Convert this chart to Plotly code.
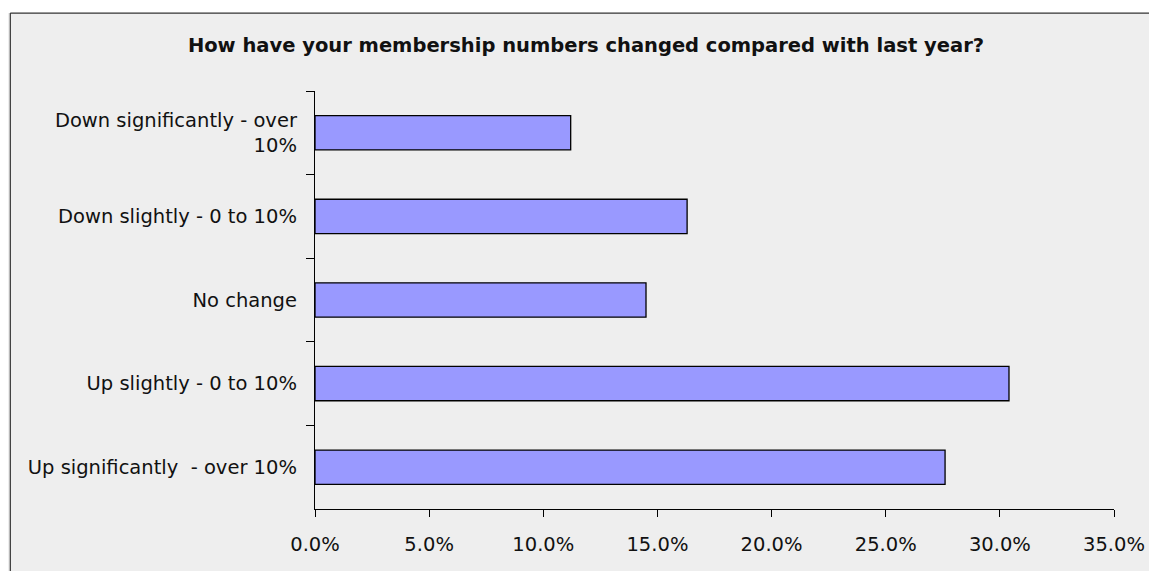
import plotly.graph_objects as go

categories = [
    "Down significantly - over<br>10%",
    "Down slightly - 0 to 10%",
    "No change",
    "Up slightly - 0 to 10%",
    "Up significantly &nbsp;- over 10%",
]
values = [11.2, 16.3, 14.5, 30.4, 27.6]
tick_vals = [0, 5, 10, 15, 20, 25, 30, 35]
tick_text = ["0.0%", "5.0%", "10.0%", "15.0%", "20.0%", "25.0%", "30.0%", "35.0%"]
title_text = "How have your membership numbers changed compared with last year?"

OFF = 8  # page body margin offset
W, H = 1157 - OFF, 571 - OFF
L, R = 315 - OFF, 1118.5 - OFF
T, B = 91 - OFF, 509.3 - OFF
pw, ph = R - L, B - T


def px_x(p):
    return (p - L) / pw


def px_y(p):
    return 1 - (p - T) / ph


font_family = "DejaVu Sans, Verdana, sans-serif"

fig = go.Figure(
    go.Bar(
        x=values,
        y=categories,
        orientation="h",
        marker=dict(color="#9999FF", line=dict(color="#000000", width=1.3)),
        hoverinfo="skip",
    )
)

# white strip above the chart-area box
fig.add_shape(
    type="rect", xref="paper", yref="paper", layer="below",
    x0=px_x(-10), x1=px_x(W + 30), y0=px_y(5), y1=px_y(-10),
    fillcolor="#FFFFFF", line=dict(width=0),
)
# left and top borders of the chart area
fig.add_shape(
    type="line", xref="paper", yref="paper", layer="below",
    x0=px_x(0.6), x1=px_x(0.6), y0=px_y(H + 30), y1=px_y(5),
    line=dict(color="#333333", width=1.2),
)
fig.add_shape(
    type="line", xref="paper", yref="paper", layer="below",
    x0=px_x(0.6), x1=px_x(W + 30), y0=px_y(5), y1=px_y(5),
    line=dict(color="#333333", width=1.2),
)

fig.update_layout(
    width=W, height=H,
    margin=dict(l=L, r=W - R, t=T, b=H - B, pad=0),
    paper_bgcolor="#EEEEEE",
    plot_bgcolor="rgba(0,0,0,0)",
    bargap=0.59,
    showlegend=False,
    font=dict(family=font_family, size=19.5, color="#111111"),
    title=dict(
        text="<b>" + title_text + "</b>",
        xref="container", yref="container",
        x=(586 - OFF) / W, y=1 - (45 - OFF) / H, xanchor="center", yanchor="middle",
        font=dict(family=font_family, size=19.5, color="#111111"),
    ),
    xaxis=dict(
        range=[0, 35], tickvals=tick_vals, ticktext=tick_text,
        showgrid=False, zeroline=False,
        showline=True, linecolor="#000000", linewidth=1.3,
        ticks="outside", ticklen=7, tickcolor="#000000", tickwidth=1.2,
        ticklabelstandoff=10,
        tickfont=dict(size=19.5),
        fixedrange=True,
    ),
    yaxis=dict(
        categoryorder="array", categoryarray=categories,
        autorange="reversed",
        showgrid=False, zeroline=False,
        showline=True, linecolor="#000000", linewidth=1.3,
        ticks="outside", ticklen=8, tickcolor="#000000", tickwidth=1.2,
        tickson="boundaries",
        ticklabelstandoff=13,
        tickfont=dict(size=19.5),
        fixedrange=True,
    ),
)

fig.write_html(
    "out.html",
    config={"displayModeBar": False},
    post_script="document.body.style.overflow='hidden';",
)
